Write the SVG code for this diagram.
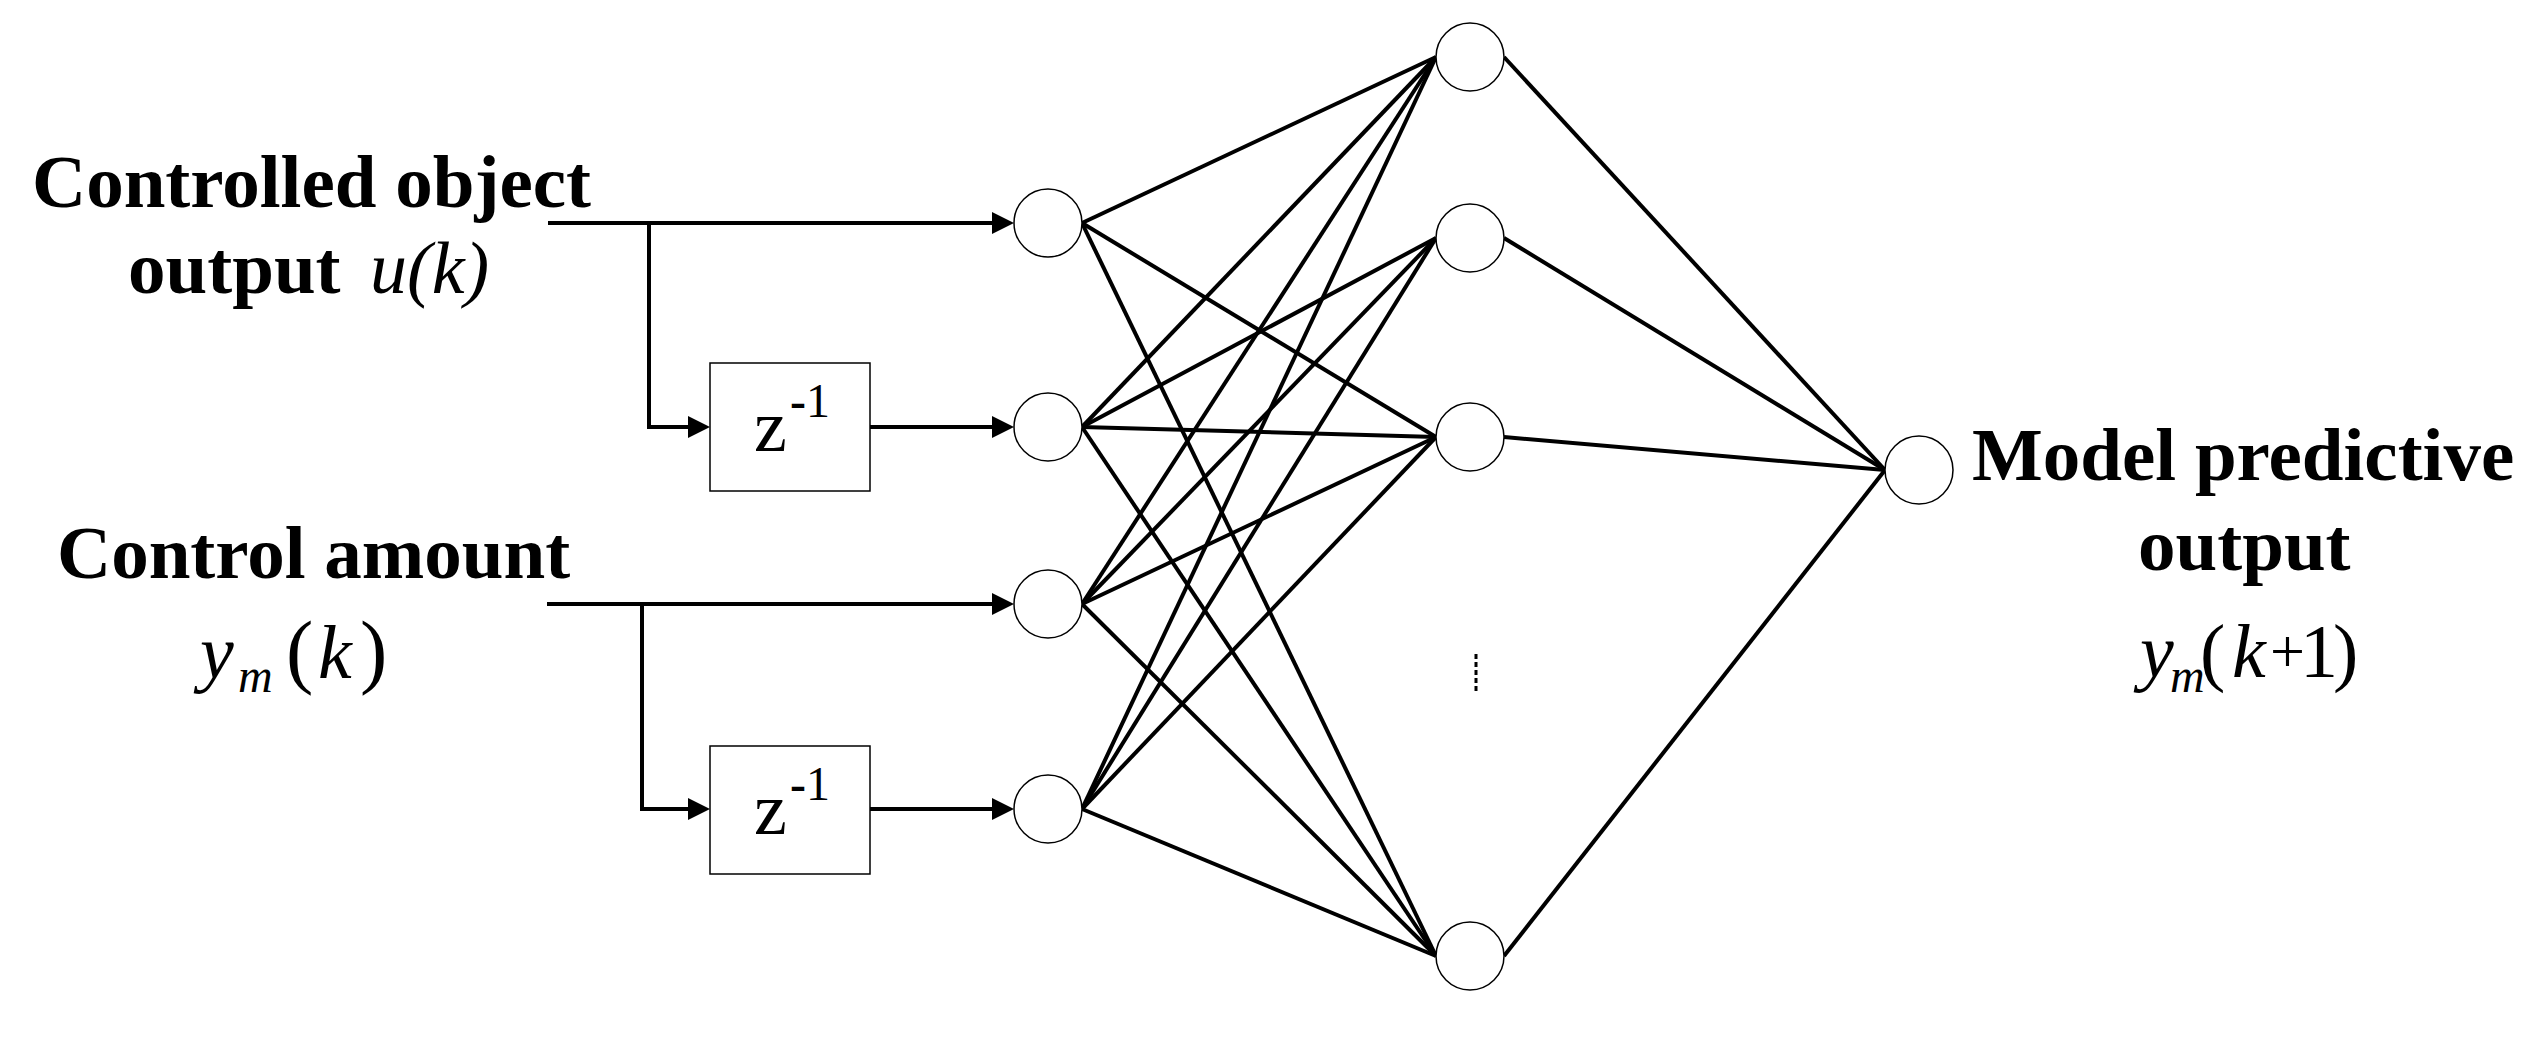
<svg xmlns="http://www.w3.org/2000/svg" width="2542" height="1041" viewBox="0 0 2542 1041">
<style>
.lbl{font-family:"Liberation Serif","Times New Roman",serif;font-weight:bold;font-size:75px;fill:#000}
.math{font-family:"Liberation Serif","Times New Roman",serif;fill:#000}
.it{font-style:italic}
.node{fill:#fff;stroke:#000;stroke-width:1.5}
.box{fill:#fff;stroke:#000;stroke-width:1.5}
.w{stroke:#000;stroke-width:4;fill:none}
.in{stroke:#000;stroke-width:4;fill:none;marker-end:url(#ah)}
</style>
<defs>
<marker id="ah" markerUnits="userSpaceOnUse" viewBox="0 0 22 22" refX="11" refY="11" markerWidth="22" markerHeight="22" orient="auto">
<path d="M0,0 L22,11 L0,22 Z" fill="#000"/>
</marker>
</defs>
<rect width="2542" height="1041" fill="#fff"/>

<g id="connectors">
<path class="in" d="M548,223 H1003"/>
<path class="in" d="M649,223 V427 H699"/>
<path class="in" d="M870,427 H1003"/>
<path class="in" d="M547,604 H1003"/>
<path class="in" d="M642,604 V809 H699"/>
<path class="in" d="M870,809 H1003"/>
<g class="w">
<line x1="1082" y1="223" x2="1436" y2="57"/>
<line x1="1082" y1="223" x2="1436" y2="437"/>
<line x1="1082" y1="223" x2="1436" y2="956"/>
<line x1="1082" y1="427" x2="1436" y2="57"/>
<line x1="1082" y1="427" x2="1436" y2="238"/>
<line x1="1082" y1="427" x2="1436" y2="437"/>
<line x1="1082" y1="427" x2="1436" y2="956"/>
<line x1="1082" y1="604" x2="1436" y2="57"/>
<line x1="1082" y1="604" x2="1436" y2="238"/>
<line x1="1082" y1="604" x2="1436" y2="437"/>
<line x1="1082" y1="604" x2="1436" y2="956"/>
<line x1="1082" y1="809" x2="1436" y2="57"/>
<line x1="1082" y1="809" x2="1436" y2="238"/>
<line x1="1082" y1="809" x2="1436" y2="437"/>
<line x1="1082" y1="809" x2="1436" y2="956"/>
<line x1="1504" y1="57" x2="1885" y2="470"/>
<line x1="1504" y1="238" x2="1885" y2="470"/>
<line x1="1504" y1="437" x2="1885" y2="470"/>
<line x1="1504" y1="956" x2="1885" y2="470"/>
</g>
<line x1="1476" y1="654" x2="1476" y2="694" stroke="#000" stroke-width="3" stroke-dasharray="5 3"/>
</g>

<g id="delay1">
<rect class="box" x="710" y="363" width="160" height="128"/>
<text class="math" x="754" y="451" font-size="74">z</text>
<text class="math" x="790" y="417" font-size="48"><tspan font-weight="bold">-</tspan>1</text>
</g>
<g id="delay2">
<rect class="box" x="710" y="746" width="160" height="128"/>
<text class="math" x="754" y="834" font-size="74">z</text>
<text class="math" x="790" y="800" font-size="48"><tspan font-weight="bold">-</tspan>1</text>
</g>

<g id="in1"><circle class="node" cx="1048" cy="223" r="34"/></g>
<g id="in2"><circle class="node" cx="1048" cy="427" r="34"/></g>
<g id="in3"><circle class="node" cx="1048" cy="604" r="34"/></g>
<g id="in4"><circle class="node" cx="1048" cy="809" r="34"/></g>
<g id="h1"><circle class="node" cx="1470" cy="57" r="34"/></g>
<g id="h2"><circle class="node" cx="1470" cy="238" r="34"/></g>
<g id="h3"><circle class="node" cx="1470" cy="437" r="34"/></g>
<g id="h5"><circle class="node" cx="1470" cy="956" r="34"/></g>
<g id="out"><circle class="node" cx="1919" cy="470" r="34"/></g>

<g id="label-u">
<text class="lbl" x="32" y="207">Controlled object</text>
<text class="lbl" x="128" y="293">output</text>
<text class="math it" x="370" y="293" font-size="74">u(k)</text>
</g>
<g id="label-y">
<text class="lbl" x="57" y="578">Control amount</text>
<text class="math" font-size="76"><tspan class="it" x="200" y="678">y</tspan><tspan class="it" x="238" y="692" font-size="48">m</tspan><tspan x="286" y="678" font-size="82">(</tspan><tspan class="it" x="318" y="678">k</tspan><tspan x="360" y="678" font-size="82">)</tspan></text>
</g>
<g id="label-out">
<text class="lbl" x="1972" y="480">Model predictive</text>
<text class="lbl" x="2138" y="570">output</text>
<text class="math" font-size="76"><tspan class="it" x="2140" y="677">y</tspan><tspan class="it" x="2170" y="692" font-size="48">m</tspan><tspan x="2200" y="677">(</tspan><tspan class="it" x="2232" y="677">k</tspan><tspan x="2270" y="672" font-size="62">+</tspan><tspan x="2300" y="677">1</tspan><tspan x="2333" y="677">)</tspan></text>
</g>
</svg>
